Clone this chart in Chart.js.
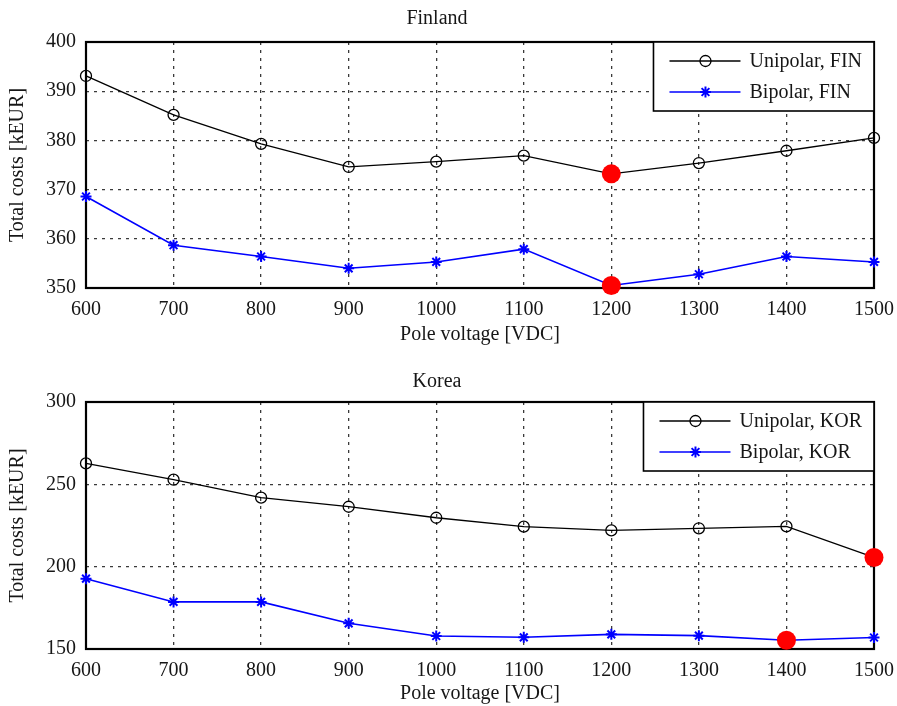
<!DOCTYPE html>
<html>
<head>
<meta charset="utf-8">
<script src="https://cdn.jsdelivr.net/npm/chart.js@4.4.1/dist/chart.umd.min.js"></script>
<style>
    html, body { margin: 0; padding: 0; background: #fff; }
    .panel { position: relative; width: 897px; height: 353px; }
</style>
</head>
<body>
<div class="panel"><canvas id="finChart"></canvas></div>
<div class="panel"><canvas id="korChart"></canvas></div>
<script>
// ============================================================
// Datos (costes totales en kEUR)
// ============================================================

const voltages = [600, 700, 800, 900, 1000, 1100, 1200, 1300, 1400, 1500];

const finUnipolar = [393.1, 385.2, 379.3, 374.6, 375.7, 376.9, 373.2, 375.4, 377.9, 380.5];
const finBipolar  = [368.6, 358.7, 356.4, 354.0, 355.3, 357.9, 350.5, 352.8, 356.4, 355.3];

const korUnipolar = [262.7, 252.8, 241.9, 236.4, 229.7, 224.3, 222.0, 223.3, 224.5, 205.6];
const korBipolar  = [192.7, 178.6, 178.6, 165.6, 157.9, 157.1, 158.9, 158.1, 155.3, 157.0];

// tensión óptima (punto rojo) para [unipolar, bipolar]
const finOptimum = [1200, 1200];
const korOptimum = [1500, 1400];

const xTicks = [600, 1500, 100];            // min, max, paso
const finTicksY = [350, 400, 10];
const korTicksY = [150, 300, 50];

const FONT = "'Liberation Serif', 'Times New Roman', serif";
const FONT_SIZE = 20;
const TEXT = "#161616";


// ============================================================
// Plugins: marco del área y leyenda con caja (estilo MATLAB)
// ============================================================

const frameBox = {
    id: "frameBox",
    beforeDatasetsDraw(chart) {
        const { ctx, chartArea: a } = chart;
        ctx.save();
        ctx.strokeStyle = "#000";
        ctx.lineWidth = 2.2;
        ctx.strokeRect(a.left, a.top, a.right - a.left, a.bottom - a.top);
        ctx.restore();
    }
};

const boxLegend = {
    id: "boxLegend",
    afterDraw(chart) {
        const { ctx, chartArea: a } = chart;
        const items = chart.data.datasets.filter(d => !d.optimum);

        ctx.save();
        ctx.font = FONT_SIZE + "px " + FONT;
        const textW = Math.max(...items.map(d => ctx.measureText(d.label).width));
        const w = 96 + textW + 12;
        const h = 69;
        const x0 = a.right - w;
        const y0 = a.top;

        ctx.fillStyle = "#fff";
        ctx.fillRect(x0, y0, w, h);
        ctx.strokeStyle = "#000";
        ctx.lineWidth = 1.6;
        ctx.strokeRect(x0, y0, w, h);

        items.forEach((d, i) => {
            const y = y0 + 19 + i * 31;
            ctx.strokeStyle = d.borderColor;
            ctx.lineWidth = d.borderWidth;
            ctx.beginPath();
            ctx.moveTo(x0 + 16, y);
            ctx.lineTo(x0 + 87, y);
            ctx.stroke();

            ctx.fillStyle = d.pointBackgroundColor;
            ctx.lineWidth = d.pointBorderWidth;
            Chart.helpers.drawPoint(ctx, {
                pointStyle: d.pointStyle,
                radius: d.pointRadius,
                borderWidth: d.pointBorderWidth,
                rotation: 0
            }, x0 + 52, y);

            ctx.fillStyle = TEXT;
            ctx.textBaseline = "middle";
            ctx.textAlign = "left";
            ctx.fillText(d.label, x0 + 96, y + 1);
        });
        ctx.restore();
    }
};


// ============================================================
// Construcción de cada gráfica
// ============================================================

function toPoints(values) {
    return voltages.map((v, i) => ({ x: v, y: values[i] }));
}

function renderPanel(canvasId, opts) {
    const ctx = document.getElementById(canvasId).getContext("2d");

    const optimumPoints = [
        { x: opts.optimum[0], y: opts.unipolar[voltages.indexOf(opts.optimum[0])] },
        { x: opts.optimum[1], y: opts.bipolar[voltages.indexOf(opts.optimum[1])] }
    ];

    const gridStyle = { color: "#3a3a3a", lineWidth: 1.3, drawTicks: false };
    const dashed = { display: false, dash: [3, 5] };

    return new Chart(ctx, {
        type: "line",
        data: {
            datasets: [
                {
                    label: "Unipolar, " + opts.code,
                    data: toPoints(opts.unipolar),
                    borderColor: "#000",
                    borderWidth: 1.3,
                    pointStyle: "circle",
                    pointRadius: 5.5,
                    pointBorderWidth: 1.3,
                    pointBorderColor: "#000",
                    pointBackgroundColor: "rgba(255,255,255,0)",
                    tension: 0,
                    clip: false,
                    order: 2
                },
                {
                    label: "Bipolar, " + opts.code,
                    data: toPoints(opts.bipolar),
                    borderColor: "#0000ff",
                    borderWidth: 1.6,
                    pointStyle: "star",
                    pointRadius: 5.5,
                    pointBorderWidth: 2,
                    pointBorderColor: "#0000ff",
                    pointBackgroundColor: "#0000ff",
                    tension: 0,
                    clip: false,
                    order: 1
                },
                {
                    label: "Óptimo",
                    optimum: true,
                    data: optimumPoints,
                    showLine: false,
                    pointRadius: 9.5,
                    pointBorderWidth: 0,
                    pointBackgroundColor: "#ff0000",
                    pointBorderColor: "#ff0000",
                    clip: false,
                    order: 0
                }
            ]
        },
        options: {
            responsive: true,
            maintainAspectRatio: false,
            animation: false,
            events: [],
            layout: { padding: { left: 0, right: 23, top: 0, bottom: 0 } },
            scales: {
                x: {
                    type: "linear",
                    min: xTicks[0],
                    max: xTicks[1],
                    afterFit: s => {
                        s.height = opts.xHeight;
                        s.paddingLeft = 0;
                        s.paddingRight = 0;
                    },
                    ticks: {
                        stepSize: xTicks[2],
                        color: TEXT,
                        padding: 10,
                        font: { family: FONT, size: FONT_SIZE },
                        callback: v => String(v)
                    },
                    grid: gridStyle,
                    border: dashed,
                    title: {
                        display: true,
                        text: "Pole voltage [VDC]",
                        color: TEXT,
                        font: { family: FONT, size: FONT_SIZE },
                        padding: { top: 0, bottom: opts.xTitlePad }
                    }
                },
                y: {
                    min: opts.ticksY[0],
                    max: opts.ticksY[1],
                    afterFit: s => {
                        s.width = 86;
                        s.paddingTop = 0;
                        s.paddingBottom = 0;
                    },
                    ticks: {
                        stepSize: opts.ticksY[2],
                        color: TEXT,
                        padding: 10,
                        font: { family: FONT, size: FONT_SIZE },
                        callback: v => String(v)
                    },
                    grid: gridStyle,
                    border: dashed,
                    title: {
                        display: true,
                        text: "Total costs [kEUR]",
                        color: TEXT,
                        font: { family: FONT, size: FONT_SIZE },
                        padding: { top: 6, bottom: 0 }
                    }
                }
            },
            plugins: {
                legend: { display: false },
                tooltip: { enabled: false },
                title: {
                    display: true,
                    text: opts.title,
                    color: TEXT,
                    font: { family: FONT, size: FONT_SIZE, weight: "normal" },
                    padding: opts.titlePad
                }
            }
        },
        plugins: [frameBox, boxLegend]
    });
}

renderPanel("finChart", {
    title: "Finland",
    code: "FIN",
    unipolar: finUnipolar,
    bipolar: finBipolar,
    optimum: finOptimum,
    ticksY: finTicksY,
    titlePad: { top: 7, bottom: 11 },
    xHeight: 65,
    xTitlePad: 6
});

renderPanel("korChart", {
    title: "Korea",
    code: "KOR",
    unipolar: korUnipolar,
    bipolar: korBipolar,
    optimum: korOptimum,
    ticksY: korTicksY,
    titlePad: { top: 17, bottom: 8 },
    xHeight: 57,
    xTitlePad: 0
});
</script>
</body>
</html>
